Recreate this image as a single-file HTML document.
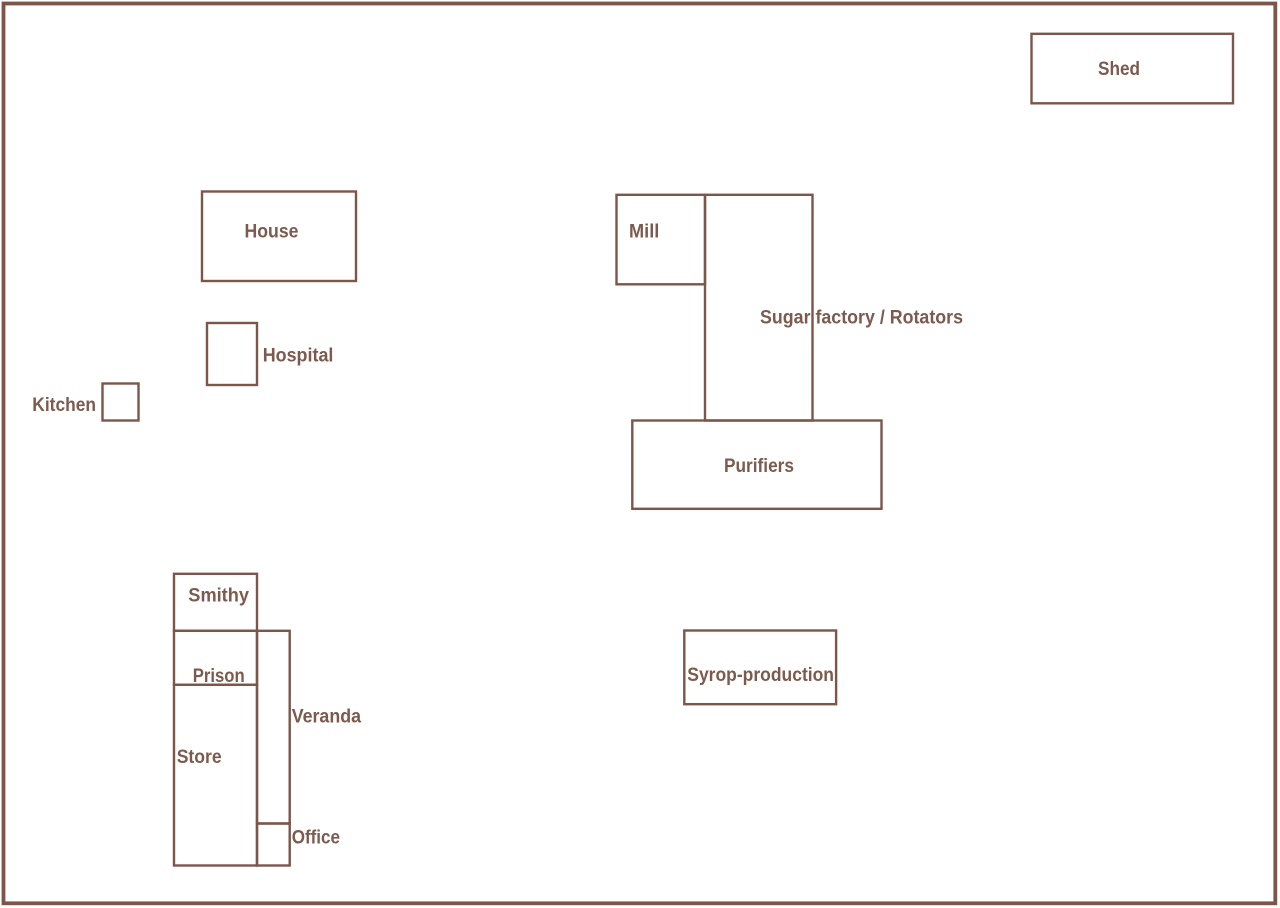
<!DOCTYPE html>
<html>
<head>
<meta charset="utf-8">
<style>
  html, body { margin: 0; padding: 0; background: #ffffff; }
  svg { display: block; }
  text { font-family: "Liberation Sans", sans-serif; font-weight: bold; font-size: 19px; fill: #7d5a4e; }
</style>
</head>
<body>
<svg width="1280" height="908" viewBox="0 0 1280 908" xmlns="http://www.w3.org/2000/svg">
  <rect x="0" y="0" width="1280" height="908" fill="#ffffff"/>
  <g fill="none" stroke="#7b5649">
    <rect x="3.5" y="3.5" width="1271.8" height="899.8" stroke-width="3.8"/>
    <g stroke-width="2.4">
      <rect x="1031.5" y="33.8" width="201.5" height="69.5"/>
      <rect x="202" y="191.5" width="154" height="89.5"/>
      <rect x="207" y="323" width="50" height="62"/>
      <rect x="102.5" y="383.5" width="36" height="37"/>
      <rect x="616.5" y="194.8" width="88.5" height="89.5"/>
      <rect x="705" y="194.8" width="107.5" height="225.7"/>
      <rect x="632.3" y="420.5" width="249.2" height="88.3"/>
      <rect x="684.3" y="630.5" width="151.8" height="73.7"/>
      <rect x="174" y="573.8" width="83" height="57"/>
      <rect x="174" y="630.8" width="83" height="54"/>
      <rect x="174" y="684.8" width="83" height="180.7"/>
      <rect x="257" y="630.8" width="32.7" height="192.7"/>
      <rect x="257" y="823.5" width="32.7" height="42"/>
    </g>
  </g>
  <text x="1098" y="75" textLength="42" lengthAdjust="spacingAndGlyphs">Shed</text>
  <text x="244.5" y="237.3" textLength="54" lengthAdjust="spacingAndGlyphs">House</text>
  <text x="262.7" y="361.3" textLength="70.7" lengthAdjust="spacingAndGlyphs">Hospital</text>
  <text x="32.3" y="410.8" textLength="63.7" lengthAdjust="spacingAndGlyphs">Kitchen</text>
  <text x="629" y="237.3" textLength="30.3" lengthAdjust="spacingAndGlyphs">Mill</text>
  <text x="760" y="323.7" textLength="203" lengthAdjust="spacingAndGlyphs">Sugar factory / Rotators</text>
  <text x="724" y="471.8" textLength="70" lengthAdjust="spacingAndGlyphs">Purifiers</text>
  <text x="687.3" y="680.8" textLength="146.7" lengthAdjust="spacingAndGlyphs">Syrop-production</text>
  <text x="188.3" y="601.5" textLength="60.7" lengthAdjust="spacingAndGlyphs">Smithy</text>
  <text x="192.7" y="681.8" textLength="52" lengthAdjust="spacingAndGlyphs">Prison</text>
  <text x="291.7" y="722.5" textLength="69.3" lengthAdjust="spacingAndGlyphs">Veranda</text>
  <text x="176.7" y="763" textLength="45" lengthAdjust="spacingAndGlyphs">Store</text>
  <text x="291.7" y="843.5" textLength="48.3" lengthAdjust="spacingAndGlyphs">Office</text>
</svg>
</body>
</html>
